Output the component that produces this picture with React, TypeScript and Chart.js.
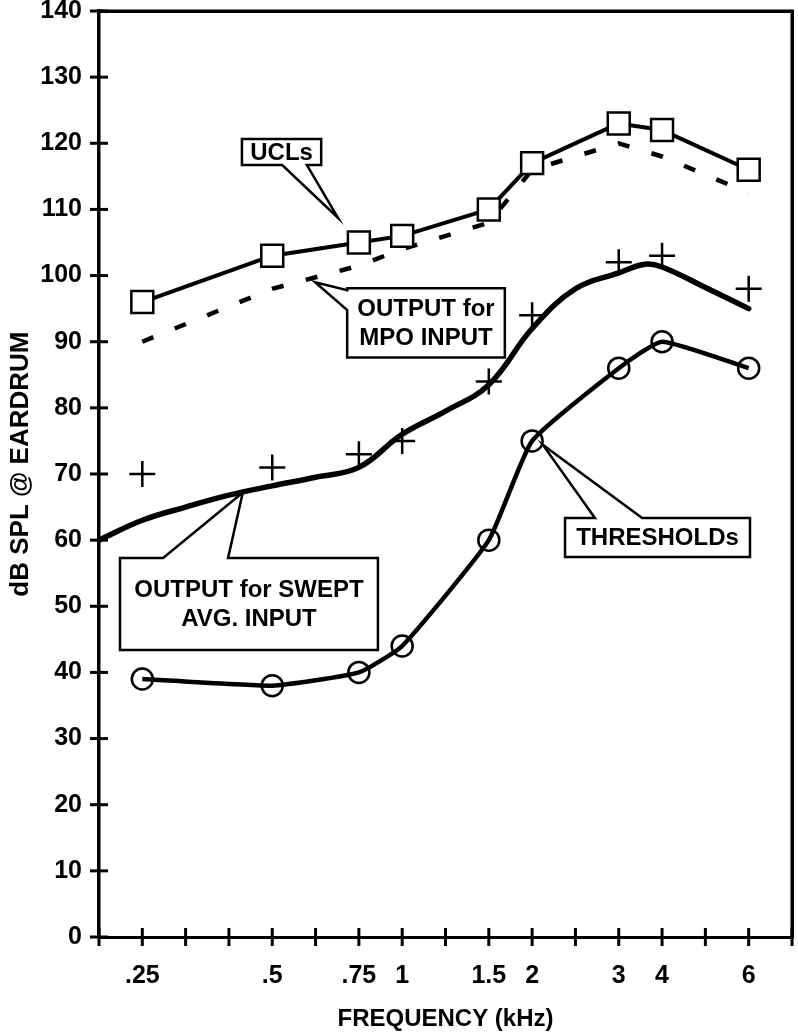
import React, { useEffect, useRef } from 'react';
import { Chart, registerables } from 'chart.js';

Chart.register(...registerables);

// ---- data ----
const FREQ_LABELS = ['.25', '.5', '.75', '1', '1.5', '2', '3', '4', '6'];
// position of each frequency on the 1/3-octave slot axis
const FREQ_SLOT = [1, 4, 6, 7, 9, 10, 12, 13, 15];
const UCL = [96, 103, 105, 106, 110, 117, 123, 122, 116];
const MPO_OUTPUT = [90, 98, 101.5, 104, 108, 116, 120, 118, 112.5];
const SWEPT_MEASURED = [70, 71, 73, 75, 84, 94, 102, 103, 98];
const THRESHOLDS = [39, 38, 40, 44, 60, 75, 86, 90, 86];
const SWEPT_SLOT = [0, 1, 2, 3, 4, 5, 6, 7, 8, 9, 10, 11, 12, 12.6, 13, 14, 15];
const SWEPT_CURVE = [60, 63, 65, 66.8, 68.2, 69.5, 71, 76, 79.5, 83.5, 92, 98, 100.4, 101.7, 101.3, 98.2, 95];
const Y_MIN = 0;
const Y_MAX = 140;
const Y_STEP = 10;
const X_MIN = 0;
const X_MAX = 16;

const Y_TITLE = 'dB SPL @ EARDRUM';
const X_TITLE = 'FREQUENCY (kHz)';

// callouts, in data coordinates [slot, dB]
const CALLOUTS = [
  { lines: ['UCLs'], box: [3.3, 120.65, 5.13, 116.7], side: 'bottom', base: [4.23, 4.8], tip: [5.52, 108.7] },
  { lines: ['OUTPUT for', 'MPO INPUT'], box: [5.73, 98.1, 9.37, 87.6], side: 'left', base: [97.8, 94.8], tip: [4.99, 99.0] },
  { lines: ['OUTPUT for SWEPT', 'AVG. INPUT'], box: [0.485, 57.3, 6.44, 43.4], side: 'top', base: [1.48, 2.98], tip: [3.32, 67.2] },
  { lines: ['THRESHOLDs'], box: [10.76, 63.35, 15.03, 57.45], side: 'top', base: [11.45, 12.54], tip: [10.25, 74.4] },
];

const FONT_FAMILY = '"Liberation Sans", Arial, Helvetica, sans-serif';

const pts = (xs: number[], ys: number[]) => xs.map((x, i) => ({ x, y: ys[i] }));

const overlayPlugin = {
  id: 'overlay',
  afterDatasetsDraw(chart: any) {
    const { ctx } = chart;
    const xs = chart.scales.x;
    const ys = chart.scales.y;
    ctx.save();
    ctx.strokeStyle = '#000';
    ctx.lineWidth = 2.5;
    ctx.lineJoin = 'miter';
    CALLOUTS.forEach((c) => {
      const l = xs.getPixelForValue(c.box[0]);
      const t = ys.getPixelForValue(c.box[1]);
      const r = xs.getPixelForValue(c.box[2]);
      const b = ys.getPixelForValue(c.box[3]);
      const tx = xs.getPixelForValue(c.tip[0]);
      const ty = ys.getPixelForValue(c.tip[1]);
      ctx.beginPath();
      if (c.side === 'bottom') {
        const b1 = xs.getPixelForValue(c.base[0]);
        const b2 = xs.getPixelForValue(c.base[1]);
        ctx.moveTo(l, t);
        ctx.lineTo(r, t);
        ctx.lineTo(r, b);
        ctx.lineTo(b2, b);
        ctx.lineTo(tx, ty);
        ctx.lineTo(b1, b);
        ctx.lineTo(l, b);
      } else if (c.side === 'top') {
        const b1 = xs.getPixelForValue(c.base[0]);
        const b2 = xs.getPixelForValue(c.base[1]);
        ctx.moveTo(l, t);
        ctx.lineTo(b1, t);
        ctx.lineTo(tx, ty);
        ctx.lineTo(b2, t);
        ctx.lineTo(r, t);
        ctx.lineTo(r, b);
        ctx.lineTo(l, b);
      } else {
        const b1 = ys.getPixelForValue(c.base[0]);
        const b2 = ys.getPixelForValue(c.base[1]);
        ctx.moveTo(l, t);
        ctx.lineTo(r, t);
        ctx.lineTo(r, b);
        ctx.lineTo(l, b);
        ctx.lineTo(l, b2);
        ctx.lineTo(tx, ty);
        ctx.lineTo(l, b1);
      }
      ctx.closePath();
      ctx.fillStyle = '#fff';
      ctx.fill();
      ctx.stroke();
      ctx.fillStyle = '#000';
      ctx.font = `bold 24px ${FONT_FAMILY}`;
      ctx.textAlign = 'center';
      ctx.textBaseline = 'middle';
      const cx = (l + r) / 2;
      const cy = (t + b) / 2;
      const lh = 29;
      c.lines.forEach((line, i) => {
        ctx.fillText(line, cx, cy + (i - (c.lines.length - 1) / 2) * lh + 1);
      });
    });
    ctx.restore();
  },
  afterDraw(chart: any) {
    const { ctx } = chart;
    const xs = chart.scales.x;
    const ys = chart.scales.y;
    const left = xs.left;
    const right = xs.right;
    const top = ys.top;
    const bottom = ys.bottom;
    ctx.save();
    ctx.strokeStyle = '#000000';
    ctx.setLineDash([]);
    ctx.lineCap = 'square';
    // frame: top and right
    ctx.lineWidth = 3;
    ctx.beginPath();
    ctx.moveTo(left, top);
    ctx.lineTo(right, top);
    ctx.lineTo(right, bottom);
    ctx.stroke();
    ctx.lineCap = 'butt';
    // tick marks crossing the axes
    xs.ticks.forEach((_t: any, i: number) => {
      const px = xs.getPixelForTick(i);
      ctx.beginPath();
      ctx.moveTo(px, bottom + 9);
      ctx.lineTo(px, bottom - 9);
      ctx.stroke();
    });
    ys.ticks.forEach((_t: any, i: number) => {
      const py = ys.getPixelForTick(i);
      ctx.beginPath();
      ctx.moveTo(left - 9, py);
      ctx.lineTo(left + 9, py);
      ctx.stroke();
    });
    // y-axis title
    ctx.fillStyle = '#000';
    ctx.font = `bold 26px ${FONT_FAMILY}`;
    ctx.textAlign = 'center';
    ctx.textBaseline = 'middle';
    ctx.translate(21, ys.getPixelForValue(71.5));
    ctx.rotate(-Math.PI / 2);
    ctx.fillText(Y_TITLE, 0, 0);
    ctx.restore();
  },
};

export default function App() {
  const ref = useRef<HTMLCanvasElement | null>(null);

  useEffect(() => {
    if (!ref.current) return;
    const tickFont = { family: FONT_FAMILY, size: 25, weight: 'bold' as const, lineHeight: 0.85 };
    const frameAxis = {
      display: true,
      ticks: { display: false },
      grid: { display: false, drawTicks: false },
      border: { display: true, color: '#000', width: 3 },
    };
    const chart = new Chart(ref.current, {
      type: 'line',
      data: {
        datasets: [
          {
            label: 'UCLs',
            data: pts(FREQ_SLOT, UCL),
            borderColor: '#000',
            borderWidth: 4,
            pointStyle: 'rect',
            pointRadius: 15.5,
            pointBorderWidth: 2.5,
            pointBorderColor: '#000',
            pointBackgroundColor: '#fff',
            tension: 0,
          },
          {
            label: 'OUTPUT for MPO INPUT',
            data: pts(FREQ_SLOT, MPO_OUTPUT),
            borderColor: '#000',
            borderWidth: 4.5,
            borderDash: [12, 23],
            pointRadius: 0,
            tension: 0,
          },
          {
            label: 'SWEPT measured',
            data: pts(FREQ_SLOT, SWEPT_MEASURED),
            showLine: false,
            pointStyle: 'cross',
            pointRadius: 13,
            pointBorderWidth: 2.5,
            pointBorderColor: '#000',
            borderColor: '#000',
          },
          {
            label: 'OUTPUT for SWEPT AVG. INPUT',
            data: pts(SWEPT_SLOT, SWEPT_CURVE),
            borderColor: '#000',
            borderWidth: 5.5,
            pointRadius: 0,
            tension: 0.4,
            borderCapStyle: 'round',
          },
          {
            label: 'THRESHOLDs',
            data: pts(FREQ_SLOT, THRESHOLDS),
            borderColor: '#000',
            borderWidth: 4.5,
            pointStyle: 'circle',
            pointRadius: 10.5,
            pointBorderWidth: 2.5,
            pointBorderColor: '#000',
            pointBackgroundColor: 'rgba(0,0,0,0)',
            tension: 0.15,
          },
        ],
      },
      options: {
        animation: false,
        responsive: false,
        devicePixelRatio: 1,
        layout: { autoPadding: false, padding: { left: 0, top: 11, right: 6, bottom: 0 } },
        plugins: { legend: { display: false }, tooltip: { enabled: false } },
        elements: { line: { borderJoinStyle: 'round' } },
        scales: {
          x: {
            type: 'linear',
            min: X_MIN,
            max: X_MAX,
            afterFit: (s: any) => {
              s.height = 99;
            },
            ticks: {
              stepSize: 1,
              autoSkip: false,
              maxRotation: 0,
              padding: 0,
              color: '#000',
              font: tickFont,
              callback: (v: any) => {
                const i = FREQ_SLOT.indexOf(Number(v));
                return i >= 0 ? FREQ_LABELS[i] : '';
              },
            },
            grid: { display: true, drawOnChartArea: false, drawTicks: true, tickLength: 28, tickWidth: 1, tickColor: 'rgba(0,0,0,0)' },
            border: { display: true, color: '#000', width: 3 },
            title: {
              display: true,
              text: X_TITLE,
              color: '#000',
              font: { family: FONT_FAMILY, size: 24, weight: 'bold' },
              padding: { top: 0, bottom: 2 },
            },
          },
          y: {
            type: 'linear',
            min: Y_MIN,
            max: Y_MAX,
            afterFit: (s: any) => {
              s.width = 99;
            },
            ticks: {
              stepSize: Y_STEP,
              autoSkip: false,
              padding: 0,
              color: '#000',
              font: tickFont,
            },
            grid: { display: true, drawOnChartArea: false, drawTicks: true, tickLength: 17, tickWidth: 1, tickColor: 'rgba(0,0,0,0)' },
            border: { display: true, color: '#000', width: 3.5 },
            title: { display: false, text: Y_TITLE },
          },
          xTop: { ...frameAxis, type: 'linear', axis: 'x', position: 'top', min: X_MIN, max: X_MAX },
          yRight: { ...frameAxis, type: 'linear', axis: 'y', position: 'right', min: Y_MIN, max: Y_MAX },
        },
      },
      plugins: [overlayPlugin],
    } as any);
    return () => chart.destroy();
  }, []);

  return (
    <div style={{ position: 'absolute', left: 0, top: 0, width: 798, height: 1036, background: '#fff' }}>
      <canvas ref={ref} width={798} height={1036} style={{ display: 'block', width: 798, height: 1036 }} />
    </div>
  );
}
